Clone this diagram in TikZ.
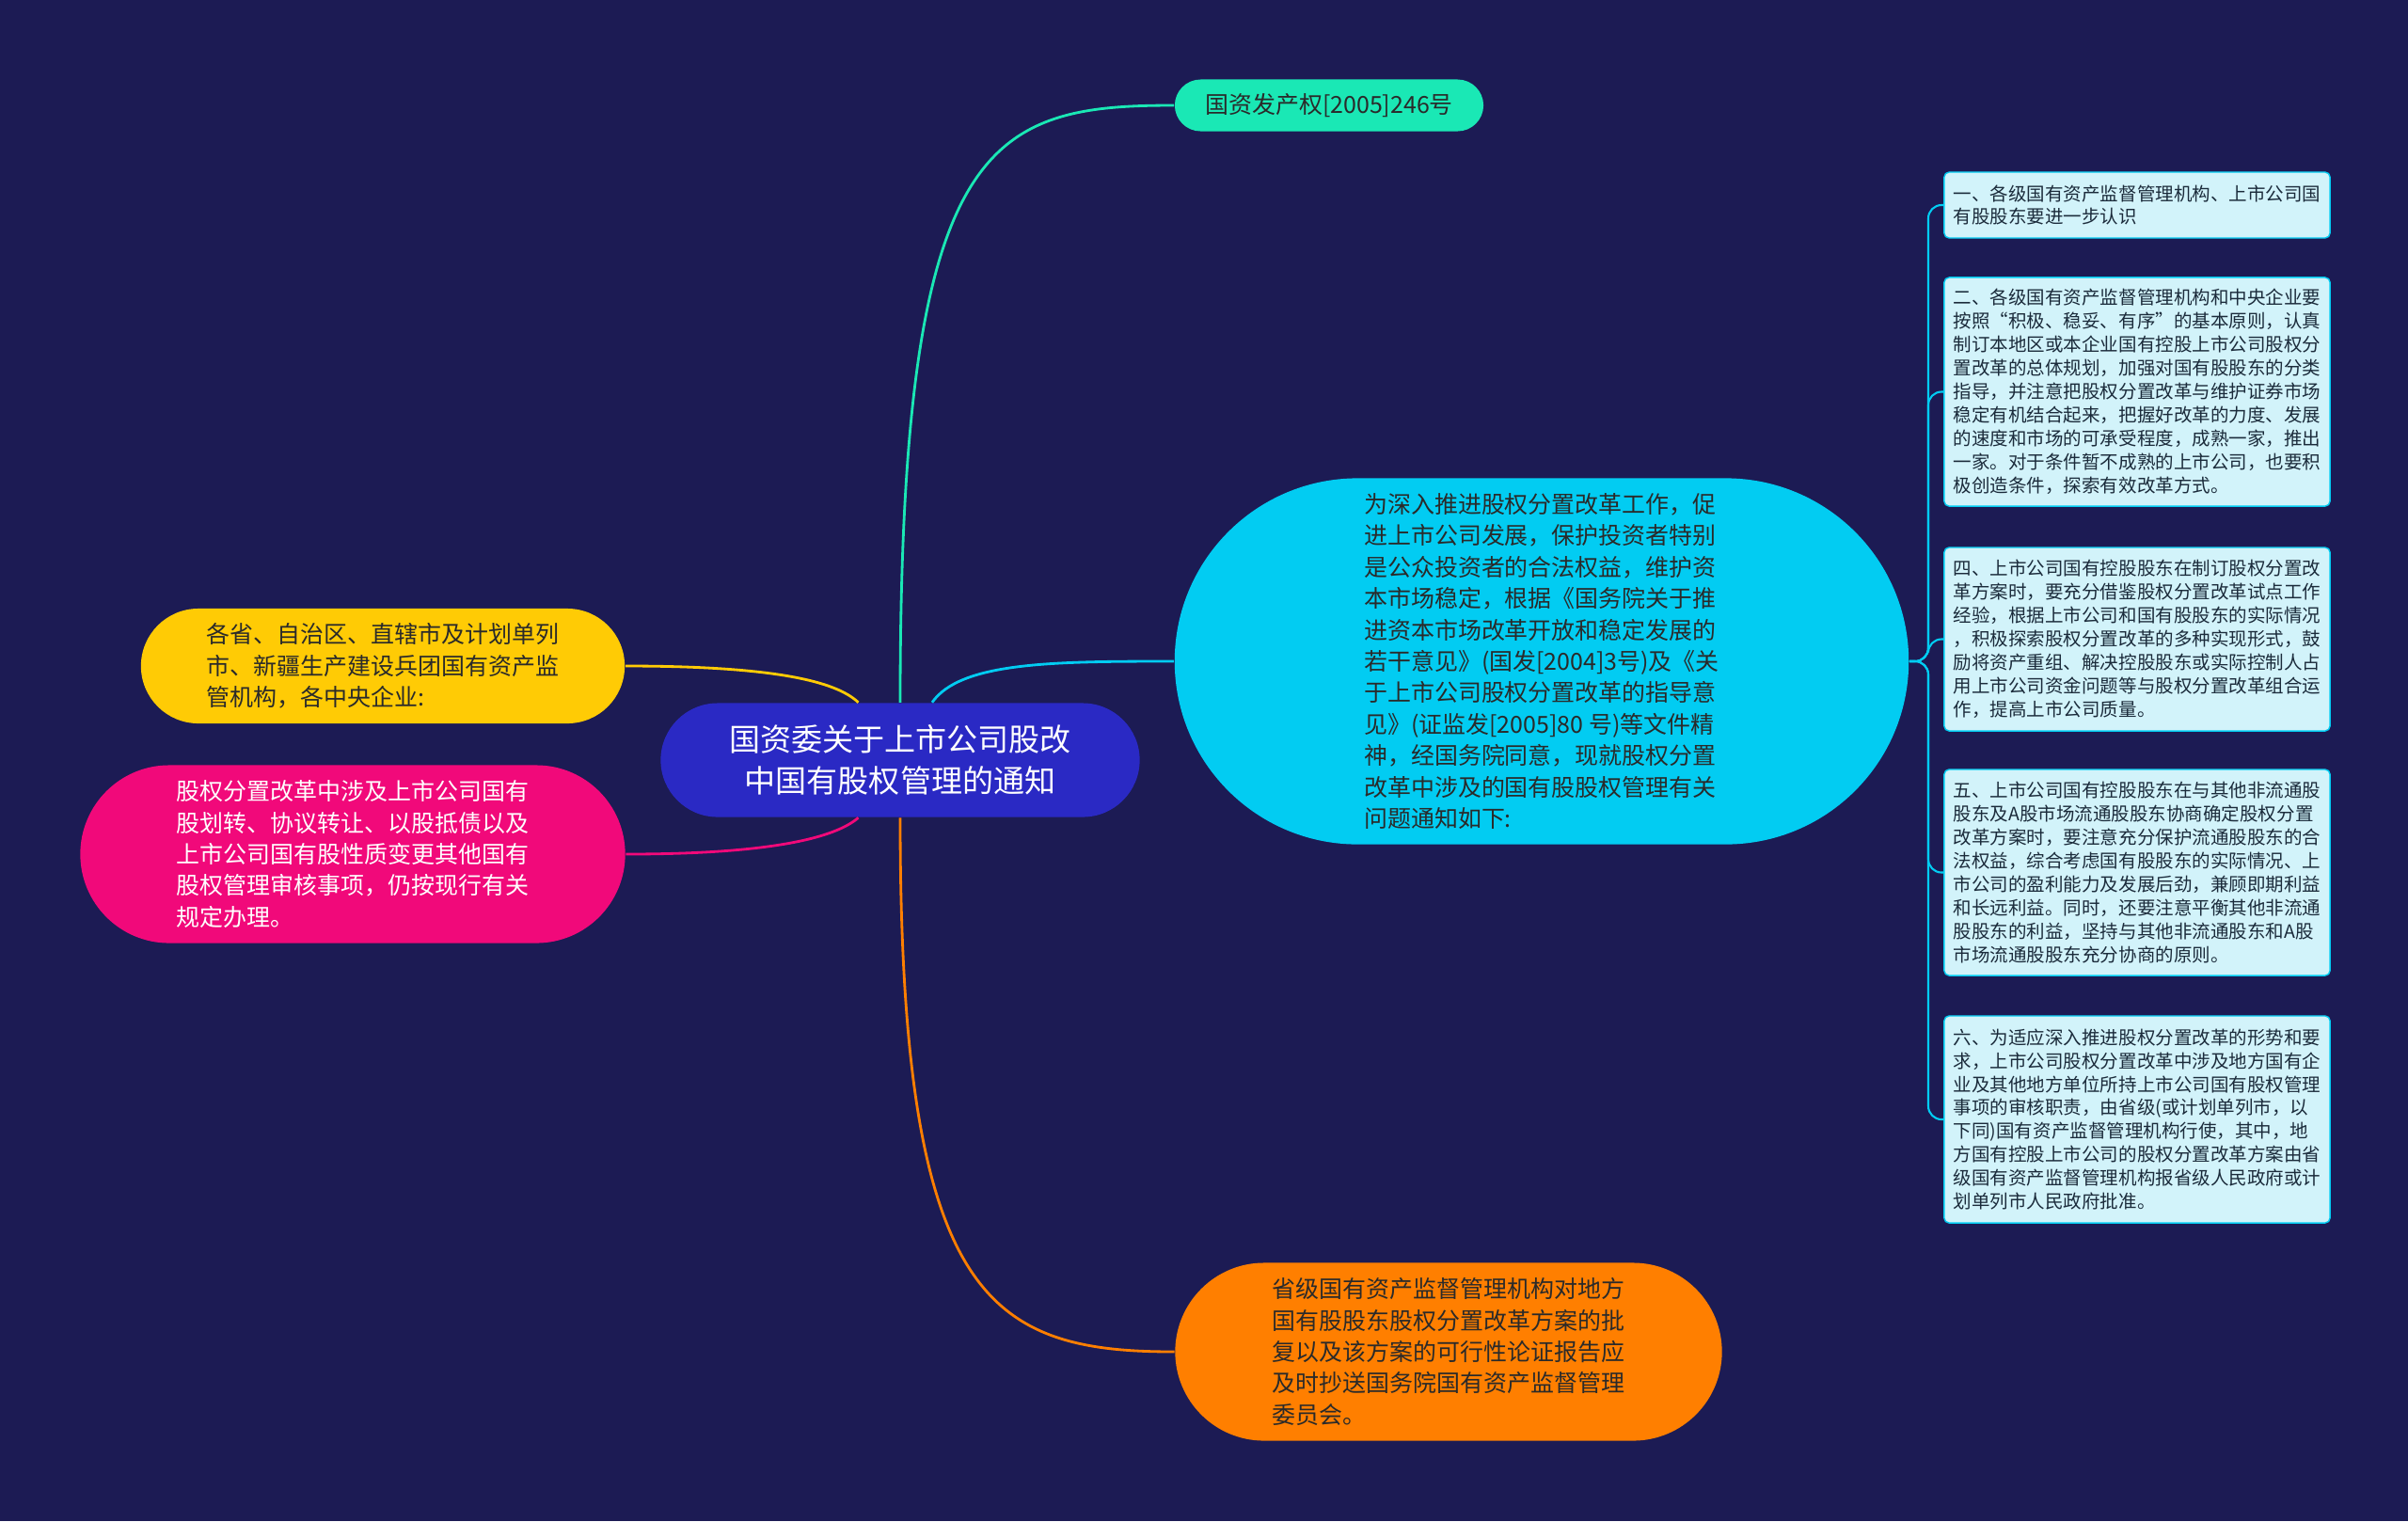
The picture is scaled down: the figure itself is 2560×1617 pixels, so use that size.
\documentclass[tikz,border=0pt]{standalone}
\usepackage{fontspec}
\setmainfont{Noto Sans CJK SC}
\usepackage{tikz}
\usetikzlibrary{shapes.misc}
\definecolor{bgnavy}{HTML}{1C1B54}
\definecolor{hubblue}{HTML}{2A29C4}
\definecolor{aqua}{HTML}{1AE8B5}
\definecolor{sun}{HTML}{FFCB05}
\definecolor{rose}{HTML}{F1097A}
\definecolor{sky}{HTML}{02CCF2}
\definecolor{amber}{HTML}{FF7F00}
\definecolor{notefill}{HTML}{D2F3FA}
\definecolor{notetext}{HTML}{1B2B3B}
\definecolor{darktext}{HTML}{2A2A2A}

\begin{document}
\begin{tikzpicture}[x=0.01cm,y=-0.01cm,
  hub/.style={rounded rectangle,fill=hubblue,text=white,align=center,inner sep=0pt,
    minimum width=5.09cm,minimum height=1.21cm,font=\fontsize{9.4}{12.5}\selectfont},
  leaf/.style={rounded rectangle,align=left,inner sep=0pt,text=darktext,
    font=\fontsize{7.1}{9.5}\selectfont},
  note/.style={rectangle,rounded corners=1.5pt,draw=sky,line width=0.4pt,fill=notefill,
    text=notetext,align=left,inner sep=0pt,minimum width=4.1cm,
    font=\fontsize{5.55}{7.1}\selectfont},
  link/.style={line width=0.8pt},
  twig/.style={line width=0.6pt,draw=sky,rounded corners=4pt}
]
\fill[bgnavy] (0,0) rectangle (2560,1617);

\node[hub] (root) at (957,808) {国资委关于上市公司股改\\中国有股权管理的通知};

\node[leaf,fill=aqua,minimum width=3.28cm,minimum height=0.55cm] (doc) at (1413,112) {国资发产权[2005]246号};
\node[leaf,fill=sun,minimum width=5.14cm,minimum height=1.22cm] (addr) at (407,708) {各省、自治区、直辖市及计划单列\\市、新疆生产建设兵团国有资产监\\管机构，各中央企业:};
\node[leaf,fill=rose,text=white,minimum width=5.79cm,minimum height=1.89cm] (other) at (375,908) {股权分置改革中涉及上市公司国有\\股划转、协议转让、以股抵债以及\\上市公司国有股性质变更其他国有\\股权管理审核事项，仍按现行有关\\规定办理。};
\node[leaf,fill=sky,minimum width=7.80cm,minimum height=3.89cm] (intro) at (1639,703) {为深入推进股权分置改革工作，促\\进上市公司发展，保护投资者特别\\是公众投资者的合法权益，维护资\\本市场稳定，根据《国务院关于推\\进资本市场改革开放和稳定发展的\\若干意见》(国发[2004]3号)及《关\\于上市公司股权分置改革的指导意\\见》(证监发[2005]80 号)等文件精\\神，经国务院同意，现就股权分置\\改革中涉及的国有股股权管理有关\\问题通知如下:};
\node[leaf,fill=amber,minimum width=5.81cm,minimum height=1.89cm] (copy) at (1540,1437) {省级国有资产监督管理机构对地方\\国有股股东股权分置改革方案的批\\复以及该方案的可行性论证报告应\\及时抄送国务院国有资产监督管理\\委员会。};

\node[note,minimum height=0.70cm] (n1) at (2272,218) {一、各级国有资产监督管理机构、上市公司国\\有股股东要进一步认识};
\node[note,minimum height=2.43cm] (n2) at (2272,416.5) {二、各级国有资产监督管理机构和中央企业要\\按照“积极、稳妥、有序”的基本原则，认真\\制订本地区或本企业国有控股上市公司股权分\\置改革的总体规划，加强对国有股股东的分类\\指导，并注意把股权分置改革与维护证券市场\\稳定有机结合起来，把握好改革的力度、发展\\的速度和市场的可承受程度，成熟一家，推出\\一家。对于条件暂不成熟的上市公司，也要积\\极创造条件，探索有效改革方式。};
\node[note,minimum height=1.95cm] (n3) at (2272,679.5) {四、上市公司国有控股股东在制订股权分置改\\革方案时，要充分借鉴股权分置改革试点工作\\经验，根据上市公司和国有股股东的实际情况\\，积极探索股权分置改革的多种实现形式，鼓\\励将资产重组、解决控股股东或实际控制人占\\用上市公司资金问题等与股权分置改革组合运\\作，提高上市公司质量。};
\node[note,minimum height=2.19cm] (n4) at (2272,927.5) {五、上市公司国有控股股东在与其他非流通股\\股东及A股市场流通股股东协商确定股权分置\\改革方案时，要注意充分保护流通股股东的合\\法权益，综合考虑国有股股东的实际情况、上\\市公司的盈利能力及发展后劲，兼顾即期利益\\和长远利益。同时，还要注意平衡其他非流通\\股股东的利益，坚持与其他非流通股东和A股\\市场流通股股东充分协商的原则。};
\node[note,minimum height=2.20cm] (n5) at (2272,1190) {六、为适应深入推进股权分置改革的形势和要\\求，上市公司股权分置改革中涉及地方国有企\\业及其他地方单位所持上市公司国有股权管理\\事项的审核职责，由省级(或计划单列市，以\\下同)国有资产监督管理机构行使，其中，地\\方国有控股上市公司的股权分置改革方案由省\\级国有资产监督管理机构报省级人民政府或计\\划单列市人民政府批准。};

\draw[link,aqua] (root.north) .. controls +(0,-598) and +(-199,0) .. (doc.west);
\draw[link,sky] (root.61) .. controls +(30,-43) and +(-129,0) .. (intro.west);
\draw[link,sun] (root.126) .. controls +(-24,-23) and +(156,0) .. (addr.east);
\draw[link,rose] (root.234) .. controls +(-24,21) and +(156,0) .. (other.east);
\draw[link,amber] (root.south) .. controls +(0,511) and +(-199,0) .. (copy.west);

\coordinate (fork) at (2050,703);
\draw[twig] (intro.east) -- (fork) |- (n1.west);
\draw[twig] (intro.east) -- (fork) |- (n2.west);
\draw[twig] (intro.east) -- (fork) |- (n3.west);
\draw[twig] (intro.east) -- (fork) |- (n4.west);
\draw[twig] (intro.east) -- (fork) |- (n5.west);
\end{tikzpicture}
\end{document}
